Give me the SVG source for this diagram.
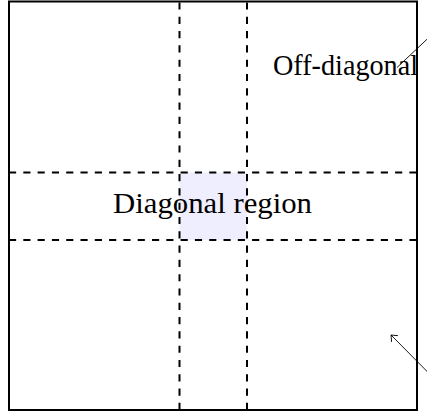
<svg xmlns="http://www.w3.org/2000/svg" width="427" height="412" viewBox="0 0 427 412">
  <defs>
    <marker id="to" viewBox="-6 -5 7 10" markerWidth="7" markerHeight="10" refX="0" refY="0" orient="auto" markerUnits="userSpaceOnUse">
      <path d="M -5,-4.2 Q -1.6,-1.2 0,0 Q -1.6,1.2 -5,4.2" fill="none" stroke="#000" stroke-width="0.9" stroke-linecap="round"/>
    </marker>
  </defs>
  <style>
    .frame { fill: none; stroke: #000; stroke-width: 2; }
    .dash { fill: none; stroke: #000; stroke-width: 2; stroke-dasharray: 7.15 7.15; }
    .line { fill: none; stroke: #000; stroke-width: 0.9; }
    .arrow { marker-end: url(#to); }
    .lbl { font-family: "Liberation Serif", "DejaVu Serif", serif; font-size: 29px; fill: #000; }
  </style>
  <rect id="background" x="0" y="0" width="427" height="412" fill="#fff"/>
  <g id="diagonal-cell">
    <rect x="179.5" y="172.5" width="67.5" height="67.5" fill="#eeeeff"/>
  </g>
  <g id="frame">
    <rect class="frame" x="9" y="1.5" width="408" height="408.5"/>
  </g>
  <g id="grid">
    <path class="dash" d="M 179.5,410 L 179.5,1.5"/>
    <path class="dash" d="M 247,410 L 247,1.5"/>
    <path class="dash" d="M 9,172.5 L 417,172.5"/>
    <path class="dash" d="M 9,240 L 417,240"/>
  </g>
  <g id="connectors">
    <path class="line" d="M 440,27 L 397,67.5"/>
    <path class="line arrow" d="M 440,384.5 L 391,335"/>
  </g>
  <g id="label-diagonal">
    <text class="lbl" x="113" y="213" textLength="199" lengthAdjust="spacingAndGlyphs">Diagonal region</text>
  </g>
  <g id="label-offdiagonal">
    <text class="lbl" x="273" y="75" textLength="145" lengthAdjust="spacingAndGlyphs">Off-diagonal</text>
  </g>
</svg>
